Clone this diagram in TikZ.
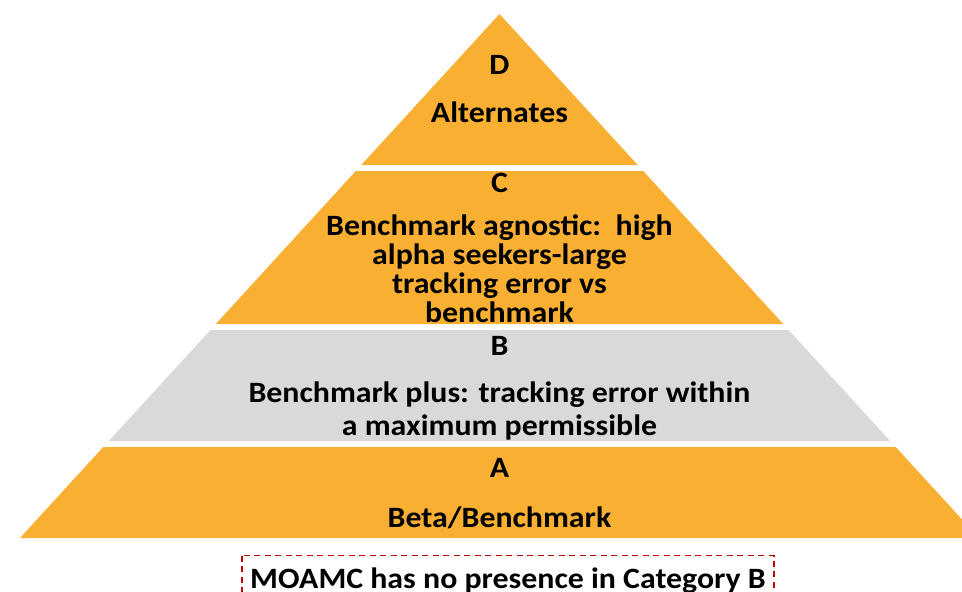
\documentclass[tikz,border=0pt]{standalone}
\usepackage{fontspec}
\setmainfont{Carlito}[FakeStretch=1.08]
\definecolor{tierorange}{HTML}{F9B032}
\definecolor{tiergray}{HTML}{D9D9D9}
\definecolor{notered}{HTML}{C00000}
\begin{document}
\begin{tikzpicture}[x=1pt,y=-1pt,
  tiertext/.style={anchor=base,inner sep=0pt,font=\bfseries\fontsize{29.5}{29.5}\selectfont},
  notebox/.style={draw=notered,line width=1.5pt,dash pattern=on 6pt off 4.5pt}]
\useasboundingbox (0,0) rectangle (962,592);
\clip (0,0) rectangle (962,592);

% tier D (apex)
\begin{scope}
  \clip (499.5,14) -- (637.7,165) -- (361.3,165) -- cycle;
  \fill[tierorange] (0,0) rectangle (962,592);
  \node[tiertext] (dlabel) at (499.5,74) {D};
  \node[tiertext] (dtext) at (499.5,122) {Alternates};
\end{scope}

% tier C
\begin{scope}
  \clip (355.8,171) -- (643.2,171) -- (783.2,324) -- (215.8,324) -- cycle;
  \fill[tierorange] (0,0) rectangle (962,592);
  \node[tiertext] (clabel) at (499.5,192) {C};
  \node[tiertext] (ctext1) at (499.5,235) {Benchmark agnostic:\ \ high};
  \node[tiertext] (ctext2) at (499.5,264) {alpha seekers-large};
  \node[tiertext] (ctext3) at (499.5,293) {tracking error vs};
  \node[tiertext] (ctext4) at (499.5,322) {benchmark};
\end{scope}

% tier B
\begin{scope}
  \clip (210.4,330) -- (788.6,330) -- (890.2,441) -- (108.8,441) -- cycle;
  \fill[tiergray] (0,0) rectangle (962,592);
  \node[tiertext] (blabel) at (499.5,355) {B};
  \node[tiertext] (btext1) at (499.5,402) {Benchmark plus: tracking error within};
  \node[tiertext] (btext2) at (499.5,435) {a maximum permissible};
\end{scope}

% tier A (base)
\begin{scope}
  \clip (103.3,447) -- (895.7,447) -- (979,538) -- (20,538) -- cycle;
  \fill[tierorange] (0,0) rectangle (962,592);
  \node[tiertext] (alabel) at (499.5,477) {A};
  \node[tiertext] (atext) at (499.5,527) {Beta/Benchmark};
\end{scope}

% note below the pyramid
\draw[notebox] (242,555.5) rectangle (774,610);
\node[tiertext] (note) at (508,588) {MOAMC has no presence in Category B};
\end{tikzpicture}
\end{document}
